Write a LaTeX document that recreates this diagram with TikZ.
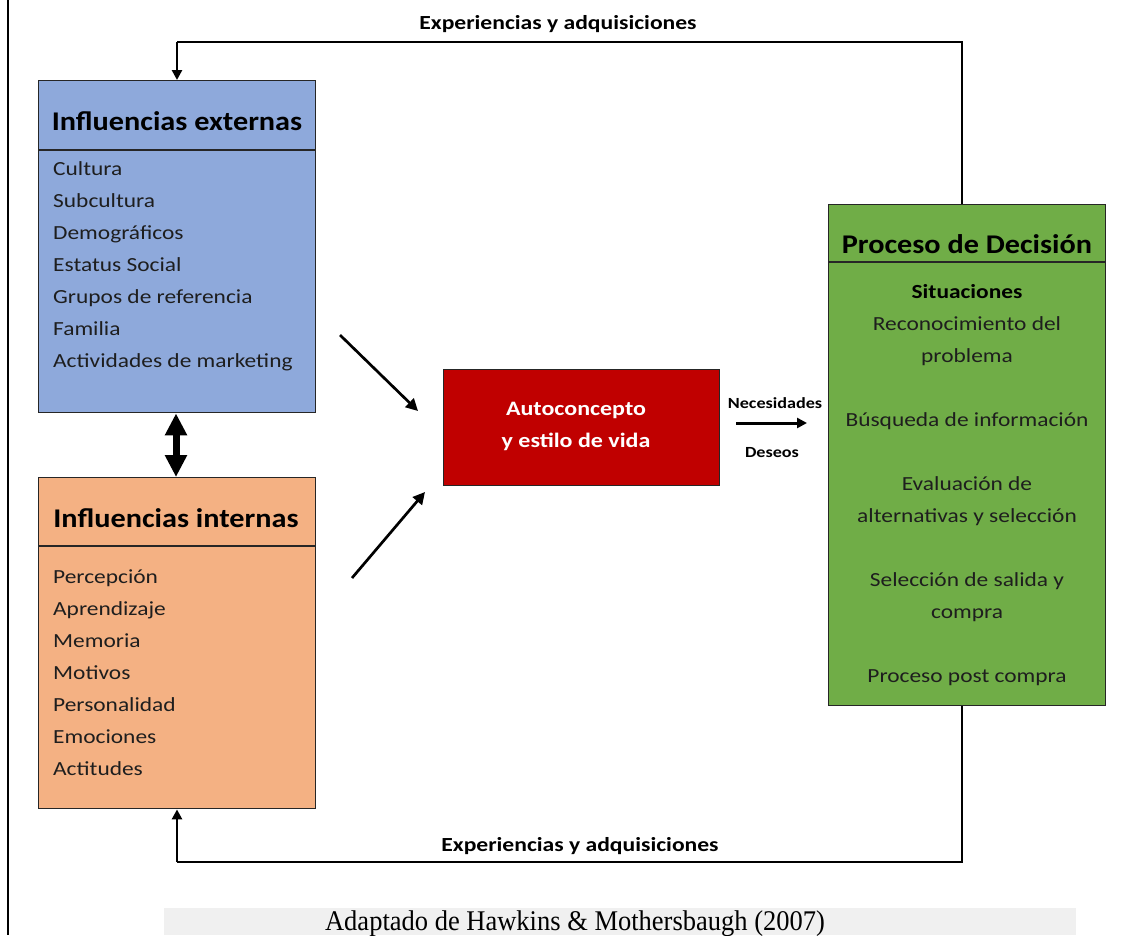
\documentclass[tikz,border=0pt]{standalone}
\usepackage{fontspec}
\setmainfont{Carlito}
\newfontfamily\bodyfont{Carlito}[FakeStretch=1.17]
\newfontfamily\headfont{Carlito}[FakeStretch=1.12]
\newfontfamily\labelfont{Carlito}[FakeStretch=1.18]
\newfontfamily\capfont{Liberation Serif}[FakeStretch=0.93]
\usetikzlibrary{arrows.meta}
\definecolor{extblue}{HTML}{8EA9DB}
\definecolor{intorange}{HTML}{F4B183}
\definecolor{selfred}{HTML}{C00000}
\definecolor{decgreen}{HTML}{70AD47}
\definecolor{listtext}{HTML}{1E1E1E}
\begin{document}
\begin{tikzpicture}[x=1pt,y=-1pt,
  panel/.style={draw=black!85, line width=1.4pt, anchor=north west, inner sep=0pt},
  divider/.style={draw=black!85, line width=1.4pt},
  heading/.style={font=\headfont\fontsize{27}{32}\selectfont\bfseries, text=black, anchor=base, inner sep=0pt},
  item/.style={font=\bodyfont\fontsize{20}{32}\selectfont, text=listtext, anchor=base west, inner sep=0pt},
  citem/.style={font=\bodyfont\fontsize{20}{32}\selectfont, text=listtext, anchor=base, inner sep=0pt},
  loop/.style={line width=2.9pt, draw=black},
  loophead/.style={-{Triangle[width=10pt,length=10pt]}},
  feed/.style={line width=2.7pt, -{Triangle[width=12pt,length=12pt]}},
  looplabel/.style={font=\labelfont\fontsize{20}{22}\selectfont\bfseries, anchor=base, inner sep=0pt},
  small/.style={font=\bodyfont\fontsize{15.5}{18}\selectfont\bfseries, anchor=base, inner sep=0pt},
  selftext/.style={font=\bodyfont\fontsize{20.5}{32}\selectfont\bfseries, text=white, anchor=base, inner sep=0pt}]

\useasboundingbox (0,0) rectangle (1134,935);
\fill[white] (0,0) rectangle (1134,935);

% faint band behind the source line
\fill[black!6] (164,908) rectangle (1076,935);

% page edge on the left
\draw[line width=2pt] (8,0) -- (8,935);

% external influences
\node[panel, fill=extblue, minimum width=277pt, minimum height=332pt] (ext) at (38,80) {};
\draw[divider] (38,150) -- (315,150);
\node[heading] (exttitle) at (177,130) {Influencias externas};
\foreach \t [count=\i from 0] in {Cultura,Subcultura,Demográficos,Estatus Social,Grupos de referencia,Familia,Actividades de marketing}
  \node[item] (ext-\i) at (53,175+32*\i) {\t};

% internal influences
\node[panel, fill=intorange, minimum width=277pt, minimum height=331pt] (int) at (38,477) {};
\draw[divider] (38,546) -- (315,546);
\node[heading] (inttitle) at (176,527) {Influencias internas};
\foreach \t [count=\i from 0] in {Percepción,Aprendizaje,Memoria,Motivos,Personalidad,Emociones,Actitudes}
  \node[item] (int-\i) at (53,583+32*\i) {\t};

% self-concept
\node[panel, fill=selfred, minimum width=276pt, minimum height=116pt] (self) at (443,369) {};
\node[selftext] (self-a) at (576,415) {Autoconcepto};
\node[selftext] (self-b) at (576,447) {y estilo de vida};

% decision process
\node[panel, fill=decgreen, minimum width=277pt, minimum height=501pt] (dec) at (828,204) {};
\draw[divider] (828,262) -- (1105,262);
\node[heading] (dectitle) at (967,253) {Proceso de Decisión};
\node[citem, font=\bodyfont\fontsize{20}{32}\selectfont\bfseries, text=black] (dec-0) at (967,298) {Situaciones};
\foreach \yy/\t [count=\i] in {330/Reconocimiento del,362/problema,426/Búsqueda de información,490/Evaluación de,522/alternativas y selección,586/Selección de salida y,618/compra,682/Proceso post compra}
  \node[citem] (dec-\i) at (967,\yy) {\t};

% feedback loops
\coordinate (topL) at (177,42);
\draw[loop] (dec.north -| 962,0) -- (962,42) -- (topL);
\draw[loop, loophead] (topL) -- (ext.north -| topL);
\node[looplabel] (toplabel) at (558,29) {Experiencias y adquisiciones};

\coordinate (botL) at (177,862);
\draw[loop] (dec.south -| 962,0) -- (962,862) -- (botL);
\draw[loop, loophead] (botL) -- (int.south -| botL);
\node[looplabel] (botlabel) at (580,851) {Experiencias y adquisiciones};

% mutual influence
\draw[line width=7pt, {Triangle[width=21pt,length=22pt]}-{Triangle[width=21pt,length=22pt]}]
  (ext.south -| 176,0) -- (int.north -| 176,0);

% influences feeding the self-concept
\coordinate (e-out) at (340,335);
\coordinate (i-out) at (352,578);
\draw[feed] (e-out) -- (418,411);
\draw[feed] (i-out) -- (425,492);

% needs and wishes
\coordinate (nd-a) at (736,423);
\draw[line width=3pt, -{Triangle[width=10pt,length=10pt]}] (nd-a) -- (807,423);
\node[small] (need) at (775,408) {Necesidades};
\node[small] (wish) at (772,457) {Deseos};

% source
\node[font=\capfont\fontsize{28.5}{30}\selectfont, anchor=base, inner sep=0pt] (src) at (575,930) {Adaptado de Hawkins \& Mothersbaugh (2007)};
\end{tikzpicture}
\end{document}
